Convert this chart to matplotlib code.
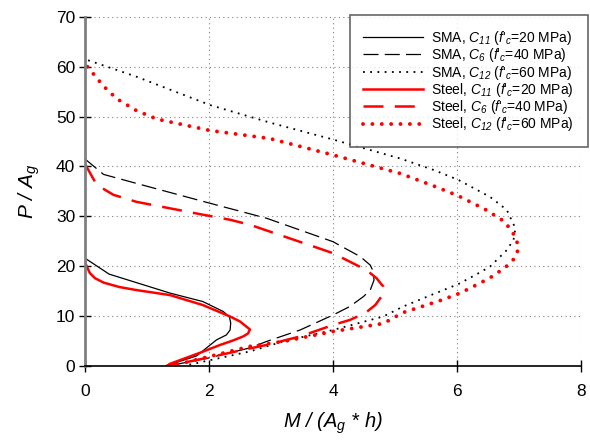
import matplotlib
matplotlib.use("Agg")
import matplotlib.pyplot as plt

plt.rcParams['font.family'] = ['Liberation Sans', 'DejaVu Sans']
plt.rcParams['mathtext.fontset'] = 'custom'
plt.rcParams['mathtext.rm'] = 'Liberation Sans:italic'
plt.rcParams['mathtext.it'] = 'Liberation Sans:italic'

# SMA, C11 (f'c = 20 MPa)
sma_c11_m = [0, 0.39, 1.37, 1.9, 2.23, 2.33, 2.35, 2.34, 2.28, 2.12, 2.02, 1.91, 1.8, 1.53, 1.32]
sma_c11_p = [21.6, 18.4, 14.6, 12.9, 10.9, 9.8, 8.6, 7.2, 6.2, 5.2, 4.2, 3.1, 2.0, 0.9, 0]
# SMA, C6 (f'c = 40 MPa)
sma_c6_m = [0, 0.3, 0.83, 1.99, 2.93, 4.0, 4.44, 4.6, 4.65, 4.66, 4.6, 4.49, 4.27, 4.0, 3.47, 2.93, 2.66,
            2.0, 1.35]
sma_c6_p = [41.5, 38.4, 36.6, 32.7, 29.6, 24.9, 21.9, 20.2, 18.9, 17.2, 15.2, 13.9, 11.9, 10.2, 7.2, 4.9, 3.6,
            1.6, 0]
# SMA, C12 (f'c = 60 MPa)
sma_c12_m = [0.05, 0.83, 2.02, 2.98, 4.0, 5.08, 5.62, 6.02, 6.53, 6.8, 6.94, 6.91, 6.8, 6.53, 6.32,
             6.02, 5.62, 5.13, 4.81, 4.0, 3.2, 2.66, 1.6]
sma_c12_p = [61.3, 58.0, 52.3, 48.8, 45.4, 41.6, 39.3, 37.3, 33.9, 31.3, 27.6, 25.3, 23.2, 19.9, 18.4,
             16.4, 14.4, 11.9, 9.9, 7.2, 4.9, 2.9, 0]
# Steel, C11
steel_c11_m = [0, 0.03, 0.08, 0.16, 0.3, 0.56, 0.83, 1.37, 1.9, 2.34, 2.5, 2.66, 2.63, 2.55, 2.39, 2.18,
               1.85, 1.37, 1.32]
steel_c11_p = [20.8, 19.9, 18.6, 17.6, 16.7, 15.8, 15.2, 14.2, 12.2, 9.9, 8.9, 7.3, 6.5, 5.9, 5.1, 4.2,
               2.6, 0.4, 0]
# Steel, C6
steel_c6_m = [0, 0.19, 0.46, 0.83, 1.91, 2.34, 2.66, 4.0, 4.54, 4.7, 4.81, 4.82, 4.78, 4.68, 4.52, 4.27,
              4.0, 3.47, 2.93, 2.66, 2.0, 1.35]
steel_c6_p = [40.5, 36.3, 34.3, 32.9, 30.3, 29.3, 28.3, 22.6, 19.2, 17.6, 15.9, 14.9, 13.9, 12.2, 10.6, 9.2,
              8.2, 5.9, 4.2, 3.5, 1.7, 0]
# Steel, C12
steel_c12_m = [0.04, 0.12, 0.3, 0.51, 0.83, 1.16, 2.02, 2.98, 4.0, 5.08, 5.62, 6.02, 6.45, 6.77, 6.94, 6.99,
               6.96, 6.9, 6.79, 6.59, 6.37, 6.05, 5.75, 5.43, 5.13, 4.81, 4.0, 3.2, 2.66, 1.4]
steel_c12_p = [60.0, 58.8, 56.1, 53.6, 51.2, 49.5, 47.2, 45.6, 42.3, 38.6, 36.1, 34.1, 31.4, 28.9, 25.9, 23.8,
               22.4, 21.2, 19.9, 18.1, 16.6, 14.6, 13.2, 11.9, 10.7, 8.5, 6.9, 4.9, 3.9, 0]

labels = [r"SMA, $C_{11}$ ($f$'$_{c}$=20 MPa)",
          r"SMA, $C_{6}$ ($f$'$_{c}$=40 MPa)",
          r"SMA, $C_{12}$ ($f$'$_{c}$=60 MPa)",
          r"Steel, $C_{11}$ ($f$'$_{c}$=20 MPa)",
          r"Steel, $C_{6}$ ($f$'$_{c}$=40 MPa)",
          r"Steel, $C_{12}$ ($f$'$_{c}$=60 MPa)"]

x_ticks = [0, 2, 4, 6, 8]
y_ticks = [0, 10, 20, 30, 40, 50, 60, 70]

fig = plt.figure(figsize=(5.90, 4.44), dpi=100)
ax = fig.add_axes([0.144, 0.176, 0.841, 0.786])

ax.plot(sma_c11_m, sma_c11_p, color='black', lw=0.9, ls='-', label=labels[0])
ax.plot(sma_c6_m, sma_c6_p, color='black', lw=0.9, ls=(0, (12, 5)), label=labels[1])
ax.plot(sma_c12_m, sma_c12_p, color='black', lw=1.3, ls=(0, (1, 3)), label=labels[2])
ax.plot(steel_c11_m, steel_c11_p, color='#ff0000', lw=1.8, ls='-', label=labels[3])
ax.plot(steel_c6_m, steel_c6_p, color='#ff0000', lw=1.8, ls=(0, (8, 4.5)), label=labels[4])
ax.plot(steel_c12_m, steel_c12_p, color='#ff0000', lw=2.8, ls=(0, (0.01, 2.4)),
        dash_capstyle='round', label=labels[5])

ax.set_xlim(0, 8)
ax.set_ylim(0, 70)
ax.set_xticks(x_ticks)
ax.set_yticks(y_ticks)
ax.grid(True, color='#808080', ls=(0, (1, 3)), lw=0.8)
ax.set_axisbelow(True)

ax.spines['top'].set_visible(False)
ax.spines['right'].set_visible(False)
ax.spines['left'].set_color('#808080')
ax.spines['left'].set_linewidth(2)
ax.spines['bottom'].set_color('black')
ax.spines['bottom'].set_linewidth(1.2)
ax.tick_params(axis='both', direction='inout', length=8, width=1, labelsize=12.5, colors='black')
ax.tick_params(axis='x', pad=9)
ax.tick_params(axis='y', pad=3)

ax.set_xlabel(r"$M\ /\ (A_g\ {*}\ h)$", fontsize=14.5, labelpad=8)
ax.set_ylabel(r"$P\ /\ A_g$", fontsize=15, labelpad=10)

leg = fig.legend(loc='upper right', fontsize=10, frameon=True, fancybox=False,
                 edgecolor='#404040', handlelength=4.3, handletextpad=0.6, borderpad=1.0,
                 labelspacing=-0.05, bbox_to_anchor=(588 / 590, 1 - 15 / 444), borderaxespad=0.0)
leg.get_frame().set_linewidth(1.2)

fig.savefig("out.png", dpi=100)
